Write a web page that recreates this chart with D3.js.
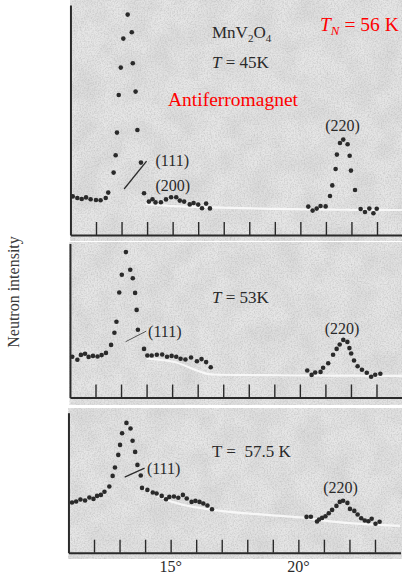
<!DOCTYPE html>
<html><head><meta charset="utf-8">
<script src="https://cdn.jsdelivr.net/npm/d3@7"></script>
<style>
html,body{margin:0;padding:0;background:#fff;}
svg{display:block;font-family:"Liberation Serif","Times New Roman",serif;}
</style></head><body>
<svg id="chart" width="402" height="575"></svg>
<script>
// Neutron diffraction scans of MnV2O4: scattering angle 2θ (deg) vs intensity (arb. units)
const angle45 = [11.09,11.27,11.44,11.61,11.79,12.00,12.18,12.38,12.48,
  12.69,12.77,12.82,12.89,12.97,13.07,13.24,13.40,13.44,13.55,13.62,13.76,13.88,
  14.07,14.21,14.33,14.54,14.74,14.94,15.14,15.28,15.45,15.67,15.82,16.00,16.15,16.31,16.46,
  20.31,20.48,20.64,20.79,20.99,21.16,21.25,21.38,21.43,21.55,21.68,21.85,21.93,21.98,22.14,22.36,22.53,22.70,22.86,22.99];
const count45 = [19.3,18.5,18.0,18.8,17.9,17.5,17.4,18.5,21.2,
  31.2,39.9,51.2,70.0,83.7,98.2,110.2,101.4,85.9,71.7,52.5,36.2,20.9,
  16.7,17.9,16.3,16.4,17.8,18.9,18.9,17.2,16.7,15.3,16.0,15.2,13.4,15.7,13.3,
  14.2,12.2,13.2,14.5,14.3,19.5,24.8,33.0,40.2,46.0,47.7,45.4,39.6,32.2,22.5,13.0,11.5,13.2,10.9,13.1];

const angle53 = [11.09,11.29,11.43,11.59,11.73,11.90,12.08,12.24,12.41,
  12.61,12.74,12.82,12.93,13.03,13.19,13.36,13.46,13.55,13.61,13.66,13.90,
  14.03,14.20,14.40,14.61,14.80,14.98,15.16,15.33,15.52,15.74,15.97,16.15,16.33,16.51,
  20.29,20.46,20.60,20.81,20.91,21.11,21.30,21.44,21.56,21.70,21.86,21.94,22.01,22.12,22.26,22.43,22.62,22.79,22.95,23.15];
const count53 = [20.4,18.9,21.3,21.9,20.3,20.8,20.5,21.2,22.3,
  26.3,32.4,37.9,52.5,61.4,72.7,63.9,59.6,52.3,43.8,33.9,24.3,
  21.0,21.0,21.4,21.5,20.4,20.8,20.4,19.4,19.0,20.0,18.1,19.2,17.7,15.1,
  13.5,11.3,12.5,12.8,14.9,17.1,21.4,24.3,26.5,28.8,27.8,24.7,22.0,18.5,15.6,13.9,12.4,10.4,11.4,11.9];

const angle575 = [11.14,11.30,11.47,11.65,11.82,11.98,12.12,12.27,12.41,
  12.60,12.73,12.82,12.95,13.02,13.10,13.27,13.43,13.51,13.61,13.70,13.83,13.88,
  14.09,14.30,14.45,14.65,14.82,14.95,15.13,15.30,15.48,15.63,15.82,15.97,16.13,16.28,16.44,16.62,
  20.32,20.49,20.73,20.81,20.93,21.06,21.19,21.32,21.49,21.62,21.75,21.92,22.02,22.19,22.32,22.46,22.60,22.74,22.87,23.02,23.18];
const count575 = [25.1,25.6,26.6,26.1,27.6,26.9,28.4,28.9,30.5,
  33.1,38.4,42.6,48.9,53.9,59.7,64.9,62.1,56.0,50.4,43.9,38.6,32.4,
  31.4,30.1,29.6,28.4,26.7,27.9,28.1,27.5,28.9,27.1,25.4,25.9,25.4,24.6,23.6,21.7,
  17.9,18.0,15.6,16.6,17.4,18.2,19.7,21.4,23.4,25.4,26.0,24.9,21.9,20.9,19.1,17.2,16.1,15.7,17.0,14.5,15.5];

// hand-drawn background lines under each scan
const bgAngle45 = [13.95,14.6,16.5,18.5,20.2,22.0,24.0];
const bgCount45 = [15.5,14.8,13.8,13.2,12.8,12.6,12.5];
const bgAngle53 = [14.0,15.0,16.6,18.5,20.2,22.0,24.0];
const bgCount53 = [19.5,18.0,11.5,11.2,11.0,10.9,10.8];
const bgAngle575 = [13.87,14.85,16.66,18.76,20.06,21.36,23.98];
const bgCount575 = [32.7,26.4,21.4,18.9,17.7,15.5,13.4];

const tickDegrees = d3.range(12, 24);
const tickLabels = [15, 20];

const panels = [
  {angle: angle45, count: count45, bgA: bgAngle45, bgC: bgCount45, x12: 96, top: 5, base: 235, yMax: 115, bg: [0, 241]},
  {angle: angle53, count: count53, bgA: bgAngle53, bgC: bgCount53, x12: 95.5, top: 243.5, base: 397.5, yMax: 77, bg: [242, 405]},
  {angle: angle575, count: count575, bgA: bgAngle575, bgC: bgCount575, x12: 94, top: 412.7, base: 552.7, yMax: 70, bg: [408, 559]}
];
const STEP = 25.545; // px per degree

const svg = d3.select("#chart");
const defs = svg.append("defs");
const f = defs.append("filter").attr("id", "grain").attr("x", 0).attr("y", 0).attr("width", "100%").attr("height", "100%");
f.append("feTurbulence").attr("type", "fractalNoise").attr("baseFrequency", 0.7).attr("numOctaves", 2).attr("seed", 4).attr("result", "n");
f.append("feColorMatrix").attr("in", "n").attr("type", "matrix")
  .attr("values", "0 0 0 0 0.45  0 0 0 0 0.45  0 0 0 0 0.45  1.1 0 0 0 -0.42");
const f2 = defs.append("filter").attr("id", "mottle").attr("x", 0).attr("y", 0).attr("width", "100%").attr("height", "100%");
f2.append("feTurbulence").attr("type", "fractalNoise").attr("baseFrequency", 0.04).attr("numOctaves", 2).attr("seed", 9).attr("result", "n");
f2.append("feColorMatrix").attr("in", "n").attr("type", "matrix")
  .attr("values", "0 0 0 0 0.6  0 0 0 0 0.6  0 0 0 0 0.6  0.9 0 0 0 -0.3");

const ink = "#2a2a2a";

panels.forEach((p, i) => {
  const x = d3.scaleLinear().domain([11, 24]).range([p.x12 - STEP, p.x12 + 12 * STEP]);
  const y = d3.scaleLinear().domain([0, p.yMax]).range([p.base, p.top]);
  p.x = x; p.y = y;
  const g = svg.append("g");

  // scanned paper tone
  g.append("rect").attr("x", x(11)).attr("y", p.bg[0]).attr("width", 402 - x(11)).attr("height", p.bg[1] - p.bg[0]).attr("fill", "#e6e6e6");
  g.append("rect").attr("x", x(11)).attr("y", p.bg[0]).attr("width", 402 - x(11)).attr("height", p.bg[1] - p.bg[0]).attr("filter", "url(#mottle)");
  g.append("rect").attr("x", x(11)).attr("y", p.bg[0]).attr("width", 402 - x(11)).attr("height", p.bg[1] - p.bg[0]).attr("filter", "url(#grain)");

  // background line
  const bgPts = p.bgA.map((a, k) => [a, p.bgC[k]]);
  g.append("path").datum(bgPts)
    .attr("d", d3.line().x(d => x(d[0])).y(d => y(d[1])).curve(d3.curveMonotoneX))
    .attr("fill", "none").attr("stroke", "#fbfbfb").attr("stroke-width", 2.2).attr("opacity", 0.85);

  // axes
  const ax = g.append("g").attr("transform", `translate(0,${p.base})`)
    .call(d3.axisBottom(x).tickValues(tickDegrees).tickSize(-13).tickSizeOuter(0).tickFormat(""));
  ax.select(".domain").attr("stroke", ink).attr("stroke-width", 2);
  ax.selectAll(".tick line").attr("stroke", ink).attr("stroke-width", 1.4);
  const ay = g.append("g").attr("transform", `translate(${x(11)},0)`)
    .call(d3.axisLeft(y).tickValues([]).tickSizeOuter(0));
  ay.select(".domain").attr("stroke", ink).attr("stroke-width", 2);

  // measured points
  const pts = p.angle.map((a, k) => [a, p.count[k]]);
  g.selectAll("circle").data(pts).join("circle")
    .attr("cx", d => x(d[0])).attr("cy", d => y(d[1])).attr("r", 2.3).attr("fill", ink);
});

const txt = (sel, xx, yy, size, color) => sel.append("text").attr("x", xx).attr("y", yy)
  .attr("font-size", size).attr("fill", color || ink);

// panel 1 annotations
{
  const p = panels[0], x = p.x, y = p.y;
  const t = txt(svg, 212, 38, 17);
  t.append("tspan").text("MnV");
  t.append("tspan").attr("font-size", 11).attr("dy", 4).text("2");
  t.append("tspan").attr("dy", -4).text("O");
  t.append("tspan").attr("font-size", 11).attr("dy", 4).text("4");
  const t2 = txt(svg, 212, 68, 17);
  t2.append("tspan").attr("font-style", "italic").text("T");
  t2.append("tspan").text(" = 45K");
  txt(svg, 168, 106, 19.5, "#ff0000").text("Antiferromagnet");
  const tn = txt(svg, 320, 31, 19.5, "#ff0000");
  tn.append("tspan").attr("font-style", "italic").text("T");
  tn.append("tspan").attr("font-style", "italic").attr("font-size", 13).attr("dy", 4).text("N");
  tn.append("tspan").attr("dy", -4).text(" = 56 K");
  txt(svg, x(14.33), y(34.6), 16).text("(111)");
  txt(svg, x(14.33), y(22.2), 16).text("(200)");
  txt(svg, x(21.65), y(52), 16).attr("text-anchor", "middle").text("(220)");
  svg.append("line").attr("x1", x(13.10)).attr("y1", y(23)).attr("x2", x(13.98)).attr("y2", y(36.9))
    .attr("stroke", ink).attr("stroke-width", 1.3);
}
// panel 2 annotations
{
  const p = panels[1], x = p.x, y = p.y;
  const t = txt(svg, 212, 303, 17);
  t.append("tspan").attr("font-style", "italic").text("T");
  t.append("tspan").text(" = 53K");
  txt(svg, x(14.06), y(30.2), 16).text("(111)");
  txt(svg, x(21.65), y(31.7), 16).attr("text-anchor", "middle").text("(220)");
  svg.append("line").attr("x1", x(13.18)).attr("y1", y(27.9)).attr("x2", x(13.99)).attr("y2", y(33.2))
    .attr("stroke", "#555").attr("stroke-width", 1);
}
// panel 3 annotations
{
  const p = panels[2], x = p.x, y = p.y;
  txt(svg, 212, 456.7, 17).text("T =\u00a0 57.5 K");
  txt(svg, x(14.07), y(39.3), 16).text("(111)");
  txt(svg, x(21.65), y(29.7), 16).attr("text-anchor", "middle").text("(220)");
  svg.append("line").attr("x1", x(13.2)).attr("y1", y(37.8)).attr("x2", x(13.98)).attr("y2", y(42.3))
    .attr("stroke", ink).attr("stroke-width", 1.2);

  svg.append("g").selectAll("text").data(tickLabels).join("text")
    .attr("x", d => x(d)).attr("y", 571.5).attr("text-anchor", "middle")
    .attr("font-size", 16).attr("fill", ink).text(d => d + "°");
}

// y-axis title
svg.append("text").attr("transform", "translate(19,292) rotate(-90)")
  .attr("text-anchor", "middle").attr("font-size", 16).attr("fill", "#3a3a3a").text("Neutron intensity");
</script>
</body></html>
